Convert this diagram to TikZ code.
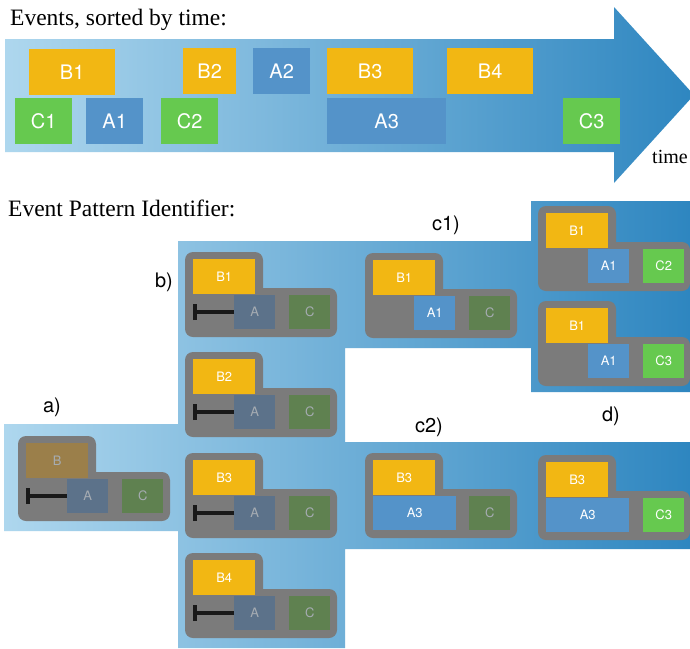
\documentclass[tikz,border=0pt]{standalone}
\usepackage{fontspec}
\setmainfont{Liberation Serif}
\newfontfamily\hvfont{TeX Gyre Heros}
\definecolor{evorange}{HTML}{F2B713}
\definecolor{evgreen}{HTML}{66C94F}
\definecolor{evblue}{HTML}{5493C9}
\definecolor{dimA}{HTML}{5C728A}
\definecolor{dimB}{HTML}{9B7F4A}
\definecolor{dimC}{HTML}{5F8150}
\definecolor{dimtext}{HTML}{A6ACB2}
\definecolor{cardgrey}{HTML}{7B7B7B}
\definecolor{flowL}{HTML}{AED7EE}
\definecolor{flowR}{HTML}{2E86C0}
\tikzset{
  evbox/.style={inner sep=0pt, text=white, font=\hvfont\fontsize{20}{20}\selectfont},
  cardbox/.style={inner sep=0pt, anchor=north west, text=white, font=\hvfont\fontsize{13}{13}\selectfont},
  bbox/.style={cardbox, fill=evorange, minimum width=62, minimum height=35},
  bdim/.style={bbox, fill=dimB, text=dimtext},
  abox/.style={cardbox, fill=evblue, minimum width=41, minimum height=34},
  adim/.style={abox, fill=dimA, text=dimtext},
  along/.style={abox, minimum width=83},
  cbox/.style={cardbox, fill=evgreen, minimum width=41, minimum height=34},
  cdim/.style={cbox, fill=dimC, text=dimtext},
  barline/.style={line width=4pt, draw=black!90},
  steplabel/.style={font=\hvfont\fontsize{20}{20}\selectfont, text=black},
  titletext/.style={anchor=base west, font=\fontsize{23.5}{26}\selectfont, inner sep=0pt},
}
\newcommand\cardbg{%
  \fill[cardgrey, rounded corners=8pt] (0,0) rectangle (78,60);
  \fill[cardgrey, rounded corners=8pt] (0,36) rectangle (152,85);
}
\begin{document}
\begin{tikzpicture}[x=1pt,y=-1pt]
\useasboundingbox (0,0) rectangle (690,648);
\fill[white] (0,0) rectangle (690,648);
% titles
\node[titletext] (t1) at (10,25) {Events, sorted by time:};
\node[titletext] (t2) at (8,216) {Event Pattern Identifier:};
% top arrow
\shade[left color=flowL, right color=flowR] (5,39) -- (614,39) -- (614,7) -- (694,95) -- (614,183) -- (614,152) -- (5,152) -- cycle;
\node[anchor=base west, inner sep=0pt, font=\fontsize{20}{22}\selectfont] (time) at (652,163) {time};
% events
\node[evbox, fill=evorange, minimum width=86, minimum height=46, anchor=north west] (eB1) at (29,49) {B1};
\node[evbox, fill=evgreen, minimum width=57, minimum height=46, anchor=north west] (eC1) at (15,98) {C1};
\node[evbox, fill=evblue, minimum width=57, minimum height=46, anchor=north west] (eA1) at (86,98) {A1};
\node[evbox, fill=evgreen, minimum width=57, minimum height=46, anchor=north west] (eC2) at (161,98) {C2};
\node[evbox, fill=evorange, minimum width=53, minimum height=46, anchor=north west] (eB2) at (183,48) {B2};
\node[evbox, fill=evblue, minimum width=57, minimum height=46, anchor=north west] (eA2) at (253,48) {A2};
\node[evbox, fill=evorange, minimum width=86, minimum height=46, anchor=north west] (eB3) at (327,48) {B3};
\node[evbox, fill=evblue, minimum width=119, minimum height=46, anchor=north west] (eA3) at (327,98) {A3};
\node[evbox, fill=evorange, minimum width=86, minimum height=46, anchor=north west] (eB4) at (447,48) {B4};
\node[evbox, fill=evgreen, minimum width=57, minimum height=46, anchor=north west] (eC3) at (563,98) {C3};
% pattern flow region
\shade[left color=flowL, right color=flowR] (4,424) -- (178,424) -- (178,241) -- (531,241) -- (531,201) -- (690,201) -- (690,392) -- (531,392) -- (531,348) -- (345,348) -- (345,442) -- (690,442) -- (690,549) -- (345,549) -- (345,648) -- (178,648) -- (178,531) -- (4,531) -- cycle;
% step labels
\node[steplabel] (la) at (52,407) {a)};
\node[steplabel] (lb) at (164,282) {b)};
\node[steplabel] (lc1) at (446,225) {c1)};
\node[steplabel] (lc2) at (429,427) {c2)};
\node[steplabel] (ld) at (611,416) {d)};
% card a
\begin{scope}[shift={(18,436)}]
\cardbg
\node[bdim] (aB) at (8,7) {B};
\node[adim] (aA) at (49,43) {A};
\node[cdim] (aC) at (104,43) {C};
\draw[barline] (aA.west) -- ++(-39,0) coordinate (aT);
\draw[barline] ([yshift=-8]aT) -- ([yshift=8]aT);
\end{scope}
% cards b
\foreach \n/\yy in {1/252,2/352,3/453,4/553}{
\begin{scope}[shift={(185,\yy)}]
\cardbg
\node[bbox] (b\n B) at (8,7) {B\n};
\node[adim] (b\n A) at (49,43) {A};
\node[cdim] (b\n C) at (104,43) {C};
\draw[barline] (b\n A.west) -- ++(-39,0) coordinate (b\n T);
\draw[barline] ([yshift=-8]b\n T) -- ([yshift=8]b\n T);
\end{scope}
}
% card c1
\begin{scope}[shift={(365,253)}]
\cardbg
\node[bbox] (c1B) at (8,7) {B1};
\node[abox] (c1A) at (49,43) {A1};
\node[cdim] (c1C) at (104,43) {C};
\end{scope}
% card c2
\begin{scope}[shift={(365,453)}]
\cardbg
\node[bbox] (c2B) at (8,7) {B3};
\node[along] (c2A) at (8,43) {A3};
\node[cdim] (c2C) at (104,43) {C};
\end{scope}
% cards d
\begin{scope}[shift={(538,206)}]
\cardbg
\node[bbox] (d1B) at (8,7) {B1};
\node[abox] (d1A) at (50,43) {A1};
\node[cbox] (d1C) at (105,43) {C2};
\end{scope}
\begin{scope}[shift={(538,301)}]
\cardbg
\node[bbox] (d2B) at (8,7) {B1};
\node[abox] (d2A) at (50,43) {A1};
\node[cbox] (d2C) at (105,43) {C3};
\end{scope}
\begin{scope}[shift={(538,455)}]
\cardbg
\node[bbox] (d3B) at (8,7) {B3};
\node[along] (d3A) at (8,43) {A3};
\node[cbox] (d3C) at (105,43) {C3};
\end{scope}
\end{tikzpicture}
\end{document}
